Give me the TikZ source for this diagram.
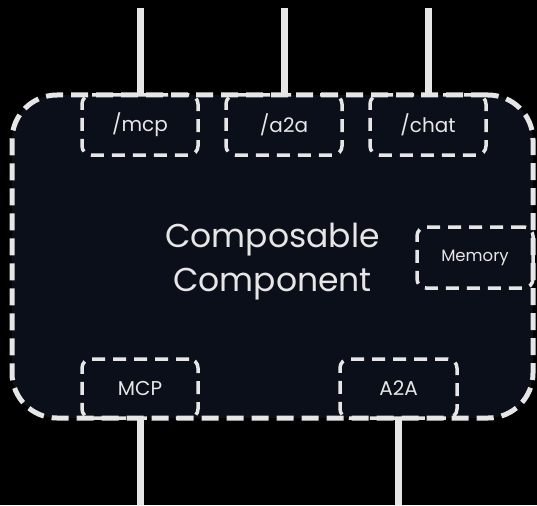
\documentclass[tikz,border=0pt]{standalone}
\usepackage{fontspec}
\setmainfont{Poppins}
\usetikzlibrary{positioning}
\definecolor{panel}{HTML}{0B0F19}
\definecolor{ink}{HTML}{E6E6E6}

\tikzset{
    port/.style={draw=ink, line width=3.5pt, dash pattern=on 13pt off 8pt,
        rounded corners=9pt, minimum width=116pt, minimum height=60pt,
        inner sep=0pt, text=ink, font=\fontsize{20}{20}\selectfont},
    wire/.style={draw=ink, line width=7pt}
}

\begin{document}
\begin{tikzpicture}[x=1pt,y=-1pt]
\fill[black] (0,0) rectangle (537,505);
\useasboundingbox (0,0) rectangle (537,505);

\node[draw=ink, fill=panel, line width=5pt, dash pattern=on 17pt off 8pt,
    rounded corners=45pt, minimum width=521pt, minimum height=323pt] (comp) at (272.5,256.5) {};
\node[text=ink, align=center, font=\fontsize{33}{44}\selectfont] (title) at (272.5,262) {Composable\\Component};

% endpoints on top
\node[port] (mcpep) at (140,125) {/mcp};
\node[port] (a2aep) at (284,125) {/a2a};
\node[port] (chatep) at (428,125) {/chat};

% memory on the side
\node[port, minimum height=61pt, font=\fontsize{16.5}{16.5}\selectfont] (mem) at (475,257.5) {Memory};

% clients at the bottom
\node[port, minimum height=59pt] (mcpcl) at (140,388.5) {MCP};
\node[port, minimum width=117pt, minimum height=59pt] (a2acl) at (398.5,388.5) {A2A};

\coordinate (mcpin) at (140,8);
\coordinate (a2ain) at (284,8);
\coordinate (chatin) at (428,8);
\coordinate (mcpout) at (140,505);
\coordinate (a2aout) at (398.5,505);

\draw[wire] (mcpin) -- (mcpep.north);
\draw[wire] (a2ain) -- (a2aep.north);
\draw[wire] (chatin) -- (chatep.north);
\draw[wire] (mcpcl.south) -- (mcpout);
\draw[wire] (a2acl.south) -- (a2aout);
\end{tikzpicture}
\end{document}
